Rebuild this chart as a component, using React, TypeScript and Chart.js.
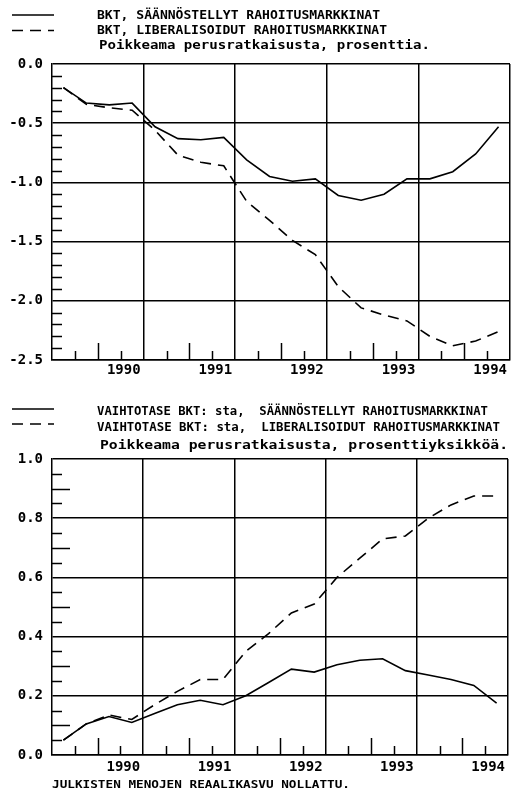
import React, { useEffect, useRef } from "react";
import { Chart, registerables } from "chart.js";
Chart.register(...registerables);

const quarters = [
  "1990Q1", "1990Q2", "1990Q3", "1990Q4",
  "1991Q1", "1991Q2", "1991Q3", "1991Q4",
  "1992Q1", "1992Q2", "1992Q3", "1992Q4",
  "1993Q1", "1993Q2", "1993Q3", "1993Q4",
  "1994Q1", "1994Q2", "1994Q3", "1994Q4",
];
const years = ["1990", "1991", "1992", "1993", "1994"];

const gdpRegulated = [-0.2, -0.33, -0.345, -0.33, -0.53, -0.63, -0.64, -0.62, -0.81, -0.95, -0.99, -0.97, -1.11, -1.15, -1.1, -0.97, -0.97, -0.91, -0.76, -0.53];
const gdpLiberalised = [-0.2, -0.34, -0.37, -0.39, -0.56, -0.77, -0.83, -0.86, -1.16, -1.32, -1.49, -1.61, -1.88, -2.06, -2.12, -2.17, -2.3, -2.38, -2.34, -2.26];
const caRegulated = [0.05, 0.105, 0.13, 0.11, 0.14, 0.17, 0.185, 0.17, 0.2, 0.245, 0.29, 0.28, 0.305, 0.32, 0.325, 0.285, 0.27, 0.255, 0.235, 0.175];
const caLiberalised = [0.05, 0.105, 0.135, 0.12, 0.17, 0.215, 0.255, 0.255, 0.35, 0.41, 0.48, 0.51, 0.6, 0.665, 0.73, 0.74, 0.8, 0.845, 0.875, 0.875];

const topLegend = ["BKT, SÄÄNNÖSTELLYT RAHOITUSMARKKINAT", "BKT, LIBERALISOIDUT RAHOITUSMARKKINAT"];
const topSubtitle = "Poikkeama perusratkaisusta, prosenttia.";
const bottomLegend = ["VAIHTOTASE BKT: sta,  SÄÄNNÖSTELLYT RAHOITUSMARKKINAT", "VAIHTOTASE BKT: sta,  LIBERALISOIDUT RAHOITUSMARKKINAT"];
const bottomSubtitle = "Poikkeama perusratkaisusta, prosenttiyksikköä.";
const footer = "JULKISTEN MENOJEN REAALIKASVU NOLLATTU.";

const FONT = "'DejaVu Sans Mono', monospace";
const DASH = [11, 7];

type TextItem = { text: string; x: number; y: number; w: number; size: number };
type Decor = {
  texts: TextItem[];
  samples: { y: number; dash: number[] }[];
  yMinor: number;
  yLongEvery: number;
  yMajor: number;
};

function fitText(ctx: CanvasRenderingContext2D, t: TextItem) {
  ctx.save();
  ctx.font = `bold ${t.size}px ${FONT}`;
  ctx.textBaseline = "middle";
  ctx.textAlign = "left";
  ctx.fillStyle = "#000";
  const m = ctx.measureText(t.text).width;
  ctx.translate(t.x, t.y);
  ctx.scale(t.w / m, 1);
  ctx.fillText(t.text, 0, 0);
  ctx.restore();
}

function decorPlugin(d: Decor) {
  return {
    id: "decor",
    afterDraw(chart: any) {
      const ctx: CanvasRenderingContext2D = chart.ctx;
      const xs = chart.scales.x;
      const ys = chart.scales.y;
      const area = chart.chartArea;
      ctx.save();
      ctx.strokeStyle = "#000";
      ctx.lineWidth = 1.5;
      // y minor ticks
      const n = Math.round((ys.max - ys.min) / d.yMinor);
      for (let i = 1; i < n; i++) {
        const v = ys.min + i * d.yMinor;
        const r = Math.round(v / d.yMajor * 1000) / 1000;
        if (Math.abs(r - Math.round(r)) < 1e-6) continue;
        const rl = Math.round(v / d.yLongEvery * 1000) / 1000;
        const long = d.yLongEvery !== d.yMinor && Math.abs(rl - Math.round(rl)) < 1e-6;
        const py = Math.round(ys.getPixelForValue(v)) + 0.5;
        ctx.beginPath();
        ctx.moveTo(area.left, py);
        ctx.lineTo(area.left + (long ? 18 : 10), py);
        ctx.stroke();
      }
      // x minor ticks (quarter boundaries)
      for (let q = 1; q < quarters.length; q++) {
        if (q % 4 === 0) continue;
        const px = Math.round(xs.getPixelForValue(q)) + 0.5;
        const len = q % 4 === 2 ? 17 : 9;
        ctx.beginPath();
        ctx.moveTo(px, area.bottom);
        ctx.lineTo(px, area.bottom - len);
        ctx.stroke();
      }
      // legend samples
      for (const s of d.samples) {
        ctx.setLineDash(s.dash);
        ctx.beginPath();
        ctx.moveTo(12, s.y);
        ctx.lineTo(54, s.y);
        ctx.stroke();
      }
      ctx.setLineDash([]);
      ctx.restore();
      for (const t of d.texts) fitText(ctx, t);
    },
  };
}

function makeConfig(
  s1: number[],
  s2: number[],
  yMin: number,
  yMax: number,
  yStep: number,
  padTop: number,
  xHeight: number,
  labelPad: number,
  decor: Decor
): any {
  const toPts = (s: number[]) => quarters.map((_, i) => ({ x: i + 0.5, y: s[i] }));
  return {
    type: "line",
    data: {
      datasets: [
        { label: "s1", data: toPts(s1), borderColor: "#000", borderWidth: 1.6, pointRadius: 0, tension: 0, fill: false },
        { label: "s2", data: toPts(s2), borderColor: "#000", borderWidth: 1.6, borderDash: DASH, pointRadius: 0, tension: 0, fill: false },
      ],
    },
    options: {
      animation: false,
      responsive: false,
      maintainAspectRatio: false,
      layout: { padding: { top: padTop, left: 0, right: 1, bottom: 0 } },
      plugins: { legend: { display: false }, tooltip: { enabled: false }, title: { display: false } },
      scales: {
        x: {
          type: "linear",
          min: 0,
          max: quarters.length,
          afterBuildTicks: (s: any) => {
            s.ticks = years.map((_, i) => ({ value: (i + 1) * 4 }));
          },
          afterFit: (s: any) => {
            s.height = xHeight;
          },
          ticks: {
            callback: (_v: any, i: number) => years[i],
            align: "end",
            labelOffset: -3,
            padding: labelPad,
            autoSkip: false,
            maxRotation: 0,
            color: "#000",
            font: { family: FONT, size: 14, weight: "bold" },
          },
          grid: { color: "#000", lineWidth: 1.5, drawTicks: false },
          border: { color: "#000", width: 1.5 },
        },
        y: {
          min: yMin,
          max: yMax,
          afterBuildTicks: (s: any) => {
            const t = [];
            const n = Math.round((yMax - yMin) / yStep);
            for (let i = 0; i <= n; i++) t.push({ value: yMin + i * yStep });
            s.ticks = t;
          },
          afterFit: (s: any) => {
            s.width = 52;
          },
          ticks: {
            callback: (v: any) => Number(v).toFixed(1),
            padding: 9,
            color: "#000",
            font: { family: FONT, size: 14, weight: "bold" },
          },
          grid: { color: "#000", lineWidth: 1.5, drawTicks: false },
          border: { color: "#000", width: 1.5 },
        },
      },
    },
    plugins: [decorPlugin(decor)],
  };
}

function ChartCanvas({ config, width, height, top }: { config: any; width: number; height: number; top: number }) {
  const ref = useRef<HTMLCanvasElement | null>(null);
  useEffect(() => {
    if (!ref.current) return;
    const c = new Chart(ref.current, config);
    return () => c.destroy();
  }, [config]);
  return (
    <canvas
      ref={ref}
      width={width}
      height={height}
      style={{ position: "absolute", left: 0, top, width, height, display: "block" }}
    />
  );
}

const topConfig = makeConfig(gdpRegulated, gdpLiberalised, -2.5, 0, 0.5, 64, 25, 2, {
  texts: [
    { text: topLegend[0], x: 97, y: 16, w: 283, size: 13 },
    { text: topLegend[1], x: 97, y: 31, w: 290, size: 13 },
    { text: topSubtitle, x: 99, y: 46, w: 331, size: 13 },
  ],
  samples: [
    { y: 15, dash: [] },
    { y: 30.5, dash: DASH },
  ],
  yMinor: 0.1,
  yLongEvery: 0.1,
  yMajor: 0.5,
});

const bottomConfig = makeConfig(caRegulated, caLiberalised, 0, 1, 0.2, 74, 50, 4, {
  texts: [
    { text: bottomLegend[0], x: 97, y: 27, w: 391, size: 13 },
    { text: bottomLegend[1], x: 97, y: 43, w: 403, size: 13 },
    { text: bottomSubtitle, x: 100, y: 61, w: 408, size: 13 },
    { text: footer, x: 52, y: 400, w: 298, size: 11 },
  ],
  samples: [
    { y: 24, dash: [] },
    { y: 39, dash: DASH },
  ],
  yMinor: 0.05,
  yLongEvery: 0.1,
  yMajor: 0.2,
});

export default function App() {
  return (
    <div style={{ position: "absolute", left: 0, top: 0, width: 512, height: 805, background: "#fff" }}>
      <ChartCanvas config={topConfig} width={512} height={385} top={0} />
      <ChartCanvas config={bottomConfig} width={512} height={420} top={385} />
    </div>
  );
}
